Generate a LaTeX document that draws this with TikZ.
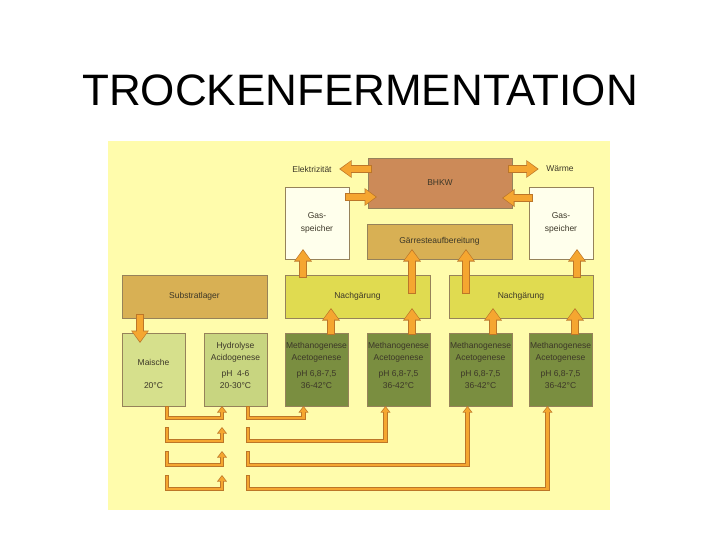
\documentclass[tikz,border=0pt]{standalone}
\usepackage{fontspec}
\setmainfont{Liberation Sans}
\usetikzlibrary{arrows.meta}
\definecolor{bgyellow}{RGB}{255,252,172}
\definecolor{boxedge}{RGB}{150,130,90}
\definecolor{textgray}{RGB}{60,55,40}
\definecolor{bhkwbrown}{RGB}{204,138,88}
\definecolor{tan}{RGB}{216,176,84}
\definecolor{nachyellow}{RGB}{224,219,80}
\definecolor{gaswhite}{RGB}{255,255,236}
\definecolor{maischegreen}{RGB}{214,224,140}
\definecolor{hydrogreen}{RGB}{200,213,128}
\definecolor{methagreen}{RGB}{122,142,64}
\definecolor{arrowfill}{RGB}{245,166,48}
\definecolor{arrowedge}{RGB}{188,118,40}
\tikzset{
  box/.style={draw=boxedge, line width=0.6pt, anchor=north west, inner sep=0pt, outer sep=0pt,
    font=\fontsize{8.5}{13}\selectfont, text=textgray, align=center},
  boxtext/.style={font=\fontsize{8.5}{12}\selectfont, text=textgray, align=center, inner sep=0pt},
  sidetext/.style={font=\fontsize{8.5}{12}\selectfont, text=textgray}
}
% thick orange block arrow: outline first, then the filling
\newcommand{\bigarrow}[2]{%
  \draw[arrowedge, line width=8.4pt, -{Triangle[width=17pt,length=12.5pt]}] #1 -- #2;
  \draw[arrowfill, line width=6.8pt, shorten <=0.8pt, shorten >=1.4pt, -{Triangle[width=14.6pt,length=10.3pt]}] #1 -- #2;}
% thin pipe
\newcommand{\pipe}[1]{%
  \draw[arrowedge, line width=4.6pt, -{Triangle[width=9.5pt,length=6.5pt]}] #1;
  \draw[arrowfill, line width=2.6pt, shorten <=1pt, shorten >=1.2pt, -{Triangle[width=7.2pt,length=5pt]}] #1;}
\begin{document}
\begin{tikzpicture}[x=1pt, y=-1pt]
  \useasboundingbox (0,0) rectangle (720,540);
  \node[font=\fontsize{44}{50}\selectfont] (title) at (360,90.5) {TROCKENFERMENTATION};
  \fill[bgyellow] (108,141) rectangle (610,510);

  % upper part
  \node[box, fill=bhkwbrown, minimum width=144pt, minimum height=50pt] (bhkw) at (368,158) {BHKW};
  \node[box, fill=gaswhite, minimum width=64pt, minimum height=72pt] (gas1) at (285,187) {Gas-\\speicher};
  \node[box, fill=gaswhite, minimum width=64pt, minimum height=72pt] (gas2) at (529,187) {Gas-\\speicher};
  \node[box, fill=tan, minimum width=145pt, minimum height=35pt] (gaerrest) at (367,224) {Gärresteaufbereitung};
  \node[box, fill=tan, minimum width=145pt, minimum height=43pt] (substrat) at (122,275) {Substratlager};
  \node[box, fill=nachyellow, minimum width=145pt, minimum height=43pt] (nach1) at (285,275) {Nachgärung};
  \node[box, fill=nachyellow, minimum width=144pt, minimum height=43pt] (nach2) at (449,275) {Nachgärung};
  \node[sidetext] (elek) at (312,169) {Elektrizität};
  \node[sidetext] (waerme) at (560,169) {Wärme};

  % lower row
  \node[box, fill=maischegreen, minimum width=63pt, minimum height=73pt] (maische) at (122,333) {};
  \node[box, fill=hydrogreen, minimum width=63pt, minimum height=73pt] (hydro) at (204,333) {};
  \foreach \i/\x in {1/285, 2/367, 3/449, 4/529}
    \node[box, fill=methagreen, minimum width=63pt, minimum height=73pt] (m\i) at (\x,333) {};
  \node[boxtext] (maischetxt) at ([yshift=-4pt]maische.center) {Maische\\[11pt]20°C};
  \node[boxtext] (hydrotxt) at ([yshift=4.5pt]hydro.center) {Hydrolyse\\Acidogenese\\[4pt]pH~ 4-6\\20-30°C};
  \foreach \i in {1,...,4}
    \node[boxtext] (m\i txt) at ([yshift=4.5pt]m\i.center) {Methanogenese\\Acetogenese\\[4pt]pH 6,8-7,5\\36-42°C};

  % pipes between the fermenters
  \coordinate (xa) at (167,0);
  \coordinate (xb) at (222,0);
  \coordinate (xc) at (248,0);
  \coordinate (row1) at (0,418);
  \foreach \i in {1,...,4}
    \coordinate (t\i) at ([xshift=-13pt]m\i.south);
  \pipe{(maische.south -| xa) -- (xa |- row1) -- (xb |- row1) -- (hydro.south -| xb)}
  \pipe{(hydro.south -| xc) -- (xc |- row1) -- (t1 |- row1) -- (t1)}
  \foreach \r/\y in {2/441, 3/465, 4/489} {
    \coordinate (row\r) at (0,\y);
    \coordinate (ls\r) at (167,\y-14);
    \coordinate (le\r) at (222,\y-14);
    \coordinate (rs\r) at (248,\y-14);
    \pipe{(ls\r) -- (ls\r |- row\r) -- (le\r |- row\r) -- (le\r)}
    \pipe{(rs\r) -- (rs\r |- row\r) -- (t\r |- row\r) -- (t\r)}
  }

  % block arrows
  \bigarrow{([shift={(18,-4)}]substrat.south west)}{([shift={(18,10)}]maische.north west)}
  \bigarrow{([shift={(46,2)}]m1.north west)}{([shift={(46,-10)}]nach1.south west)}
  \bigarrow{([shift={(45,2)}]m2.north west)}{([shift={(127,-10)}]nach1.south west)}
  \bigarrow{([shift={(44,2)}]m3.north west)}{([shift={(44,-10)}]nach2.south west)}
  \bigarrow{([shift={(46,2)}]m4.north west)}{([shift={(126,-10)}]nach2.south west)}
  \bigarrow{([shift={(18,3)}]nach1.north west)}{([shift={(18,-10)}]gas1.south west)}
  \bigarrow{([shift={(127,19)}]nach1.north west)}{([shift={(45,-10)}]gaerrest.south west)}
  \bigarrow{([shift={(17,19)}]nach2.north west)}{([shift={(99,-10)}]gaerrest.south west)}
  \bigarrow{([shift={(128,3)}]nach2.north west)}{([shift={(48,-10)}]gas2.south west)}
  \bigarrow{([shift={(-4,-26)}]gas1.east)}{([shift={(9,14)}]bhkw.west)}
  \bigarrow{([shift={(4,-25)}]gas2.west)}{([shift={(-10,15)}]bhkw.east)}
  \bigarrow{([shift={(4,-14)}]bhkw.west)}{([xshift=4pt]elek.east)}
  \bigarrow{([shift={(-4,-14)}]bhkw.east)}{([xshift=-4pt]waerme.west)}
\end{tikzpicture}
\end{document}
